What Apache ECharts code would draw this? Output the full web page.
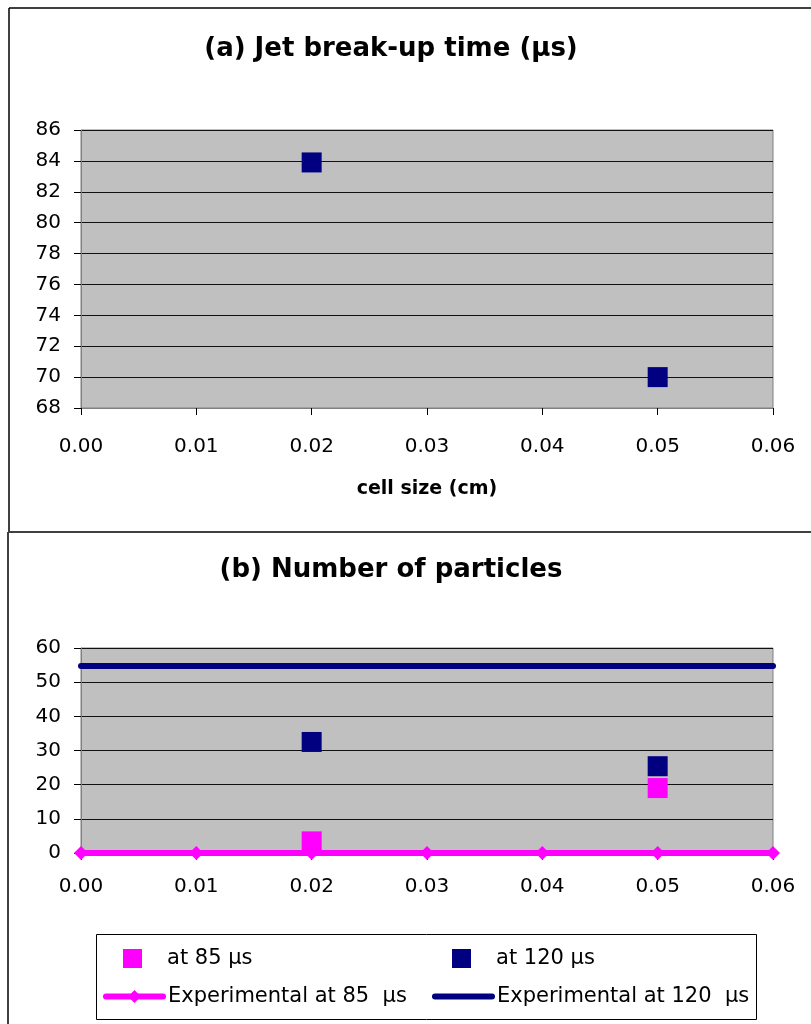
<!DOCTYPE html>
<html><head><meta charset="utf-8">
<script src="https://cdn.jsdelivr.net/npm/echarts@6/dist/echarts.min.js"></script>
<style>html,body{margin:0;padding:0;background:#fff}#c{width:811px;height:1024px}</style>
</head><body><div id="c"></div>
<script>
// ---- data ----
const cellSizes = [0.02, 0.05];
const breakupTime = [83.9, 70.0];
const particles85 = [3.4, 19.0];
const particles120 = [32.5, 25.4];
const expCellSizes = [0, 0.01, 0.02, 0.03, 0.04, 0.05, 0.06];
const exp85 = [0, 0, 0, 0, 0, 0, 0];
const expLineX = [0, 0.06];
const exp120 = [54.7, 54.7];
const titles = ['(a) Jet break-up time (\u03bcs)', '(b) Number of particles'];
const xAxisName = 'cell size (cm)';
const seriesNames = ['at 85 \u03bcs', 'at 120 \u03bcs', 'Experimental at 85  \u03bcs', 'Experimental at 120  \u03bcs'];
const topSeriesName = 'Jet break-up time';

// ---- styles ----
const F = "'DejaVu Sans', sans-serif";
const NAVY = '#000080', MAG = '#FF00FF';

function xAx(gi, margin, withName) {
  const a = {
    type: 'value', gridIndex: gi, min: 0, max: 0.06, interval: 0.01,
    axisLine: { show: true, onZero: false, lineStyle: { color: '#808080', width: 1 } },
    axisTick: { show: true, length: 7, lineStyle: { color: '#000' } },
    axisLabel: { margin: margin, fontFamily: F, fontSize: 20, color: '#000', formatter: v => v.toFixed(2) },
    splitLine: { show: false }
  };
  if (withName) {
    a.name = xAxisName; a.nameLocation = 'middle'; a.nameGap = 72;
    a.nameTextStyle = { fontFamily: F, fontSize: 19, fontWeight: 'bold', color: '#000' };
  }
  return a;
}
function yAx(gi, min, max, interval) {
  return {
    type: 'value', gridIndex: gi, min: min, max: max, interval: interval,
    axisLine: { show: true, lineStyle: { color: '#808080', width: 1 } },
    axisTick: { show: true, length: 7, lineStyle: { color: '#000' } },
    axisLabel: { margin: 20, fontFamily: F, fontSize: 20, color: '#000' },
    splitLine: { show: true, lineStyle: { color: '#111', width: 1.2 } }
  };
}
const legText = { fontFamily: F, fontSize: 21, color: '#000' };
function legSquare(name, left, top) {
  return {
    data: [{ name: name, icon: 'rect' }], left: left, top: top, padding: 0, itemGap: 0,
    itemWidth: 19, itemHeight: 19, selectedMode: false,
    formatter: '   {name}', textStyle: legText
  };
}
function legLine(name, left, top, hideSymbol) {
  const l = {
    data: [name], left: left, top: top, padding: 0, itemGap: 0,
    itemWidth: 57, itemHeight: 16, selectedMode: false,
    lineStyle: { width: 6, cap: 'round' },
    textStyle: legText
  };
  if (hideSymbol) l.itemStyle = { opacity: 0 };
  return l;
}

const chart = echarts.init(document.getElementById('c'), null, { renderer: 'canvas' });
chart.setOption({
  animation: false,
  backgroundColor: '#fff',
  title: [
    { text: titles[0], left: 391, top: 36, textAlign: 'center', padding: 0,
      textStyle: { fontFamily: F, fontSize: 26, fontWeight: 'bold', color: '#000' } },
    { text: titles[1], left: 391, top: 557, textAlign: 'center', padding: 0,
      textStyle: { fontFamily: F, fontSize: 26, fontWeight: 'bold', color: '#000' } }
  ],
  grid: [
    { left: 81, top: 130, width: 692, height: 278, show: true, backgroundColor: '#C0C0C0', borderColor: '#808080', borderWidth: 1 },
    { left: 81, top: 648, width: 692, height: 205, show: true, backgroundColor: '#C0C0C0', borderColor: '#808080', borderWidth: 1 }
  ],
  xAxis: [xAx(0, 29, true), xAx(1, 24, false)],
  yAxis: [yAx(0, 68, 86, 2), yAx(1, 0, 60, 10)],
  legend: [
    legSquare(seriesNames[0], 123, 948),
    legSquare(seriesNames[1], 452, 948),
    legLine(seriesNames[2], 103, 986, false),
    legLine(seriesNames[3], 432, 986, true)
  ],
  graphic: [
    { type: 'line', shape: { x1: 9, y1: 8, x2: 811, y2: 8 }, style: { stroke: '#404040', lineWidth: 2 } },
    { type: 'line', shape: { x1: 9, y1: 8, x2: 9, y2: 532 }, style: { stroke: '#000', lineWidth: 1.5 } },
    { type: 'line', shape: { x1: 8, y1: 532, x2: 811, y2: 532 }, style: { stroke: '#404040', lineWidth: 2 } },
    { type: 'line', shape: { x1: 8, y1: 532, x2: 8, y2: 1024 }, style: { stroke: '#404040', lineWidth: 2 } },
    { type: 'rect', shape: { x: 96.5, y: 934.5, width: 660, height: 85 }, style: { fill: 'none', stroke: '#000', lineWidth: 1 } }
  ],
  series: [
    { name: topSeriesName, type: 'scatter', xAxisIndex: 0, yAxisIndex: 0,
      data: cellSizes.map((x, i) => [x, breakupTime[i]]),
      symbol: 'rect', symbolSize: 20, itemStyle: { color: NAVY, opacity: 1 } },
    { name: seriesNames[0], type: 'scatter', xAxisIndex: 1, yAxisIndex: 1,
      data: cellSizes.map((x, i) => [x, particles85[i]]),
      symbol: 'rect', symbolSize: 20, itemStyle: { color: MAG, opacity: 1 }, z: 2 },
    { name: seriesNames[1], type: 'scatter', xAxisIndex: 1, yAxisIndex: 1,
      data: cellSizes.map((x, i) => [x, particles120[i]]),
      symbol: 'rect', symbolSize: 20, itemStyle: { color: NAVY, opacity: 1 }, z: 2 },
    { name: seriesNames[2], type: 'line', xAxisIndex: 1, yAxisIndex: 1,
      data: expCellSizes.map((x, i) => [x, exp85[i]]),
      symbol: 'diamond', symbolSize: 14, showSymbol: true, clip: false,
      lineStyle: { color: MAG, width: 6, cap: 'round' }, itemStyle: { color: MAG, opacity: 1 }, z: 3 },
    { name: seriesNames[3], type: 'line', xAxisIndex: 1, yAxisIndex: 1,
      data: expLineX.map((x, i) => [x, exp120[i]]),
      symbol: 'none', clip: false,
      lineStyle: { color: NAVY, width: 6, cap: 'round' }, itemStyle: { color: NAVY }, z: 3 }
  ]
});
</script></body></html>
